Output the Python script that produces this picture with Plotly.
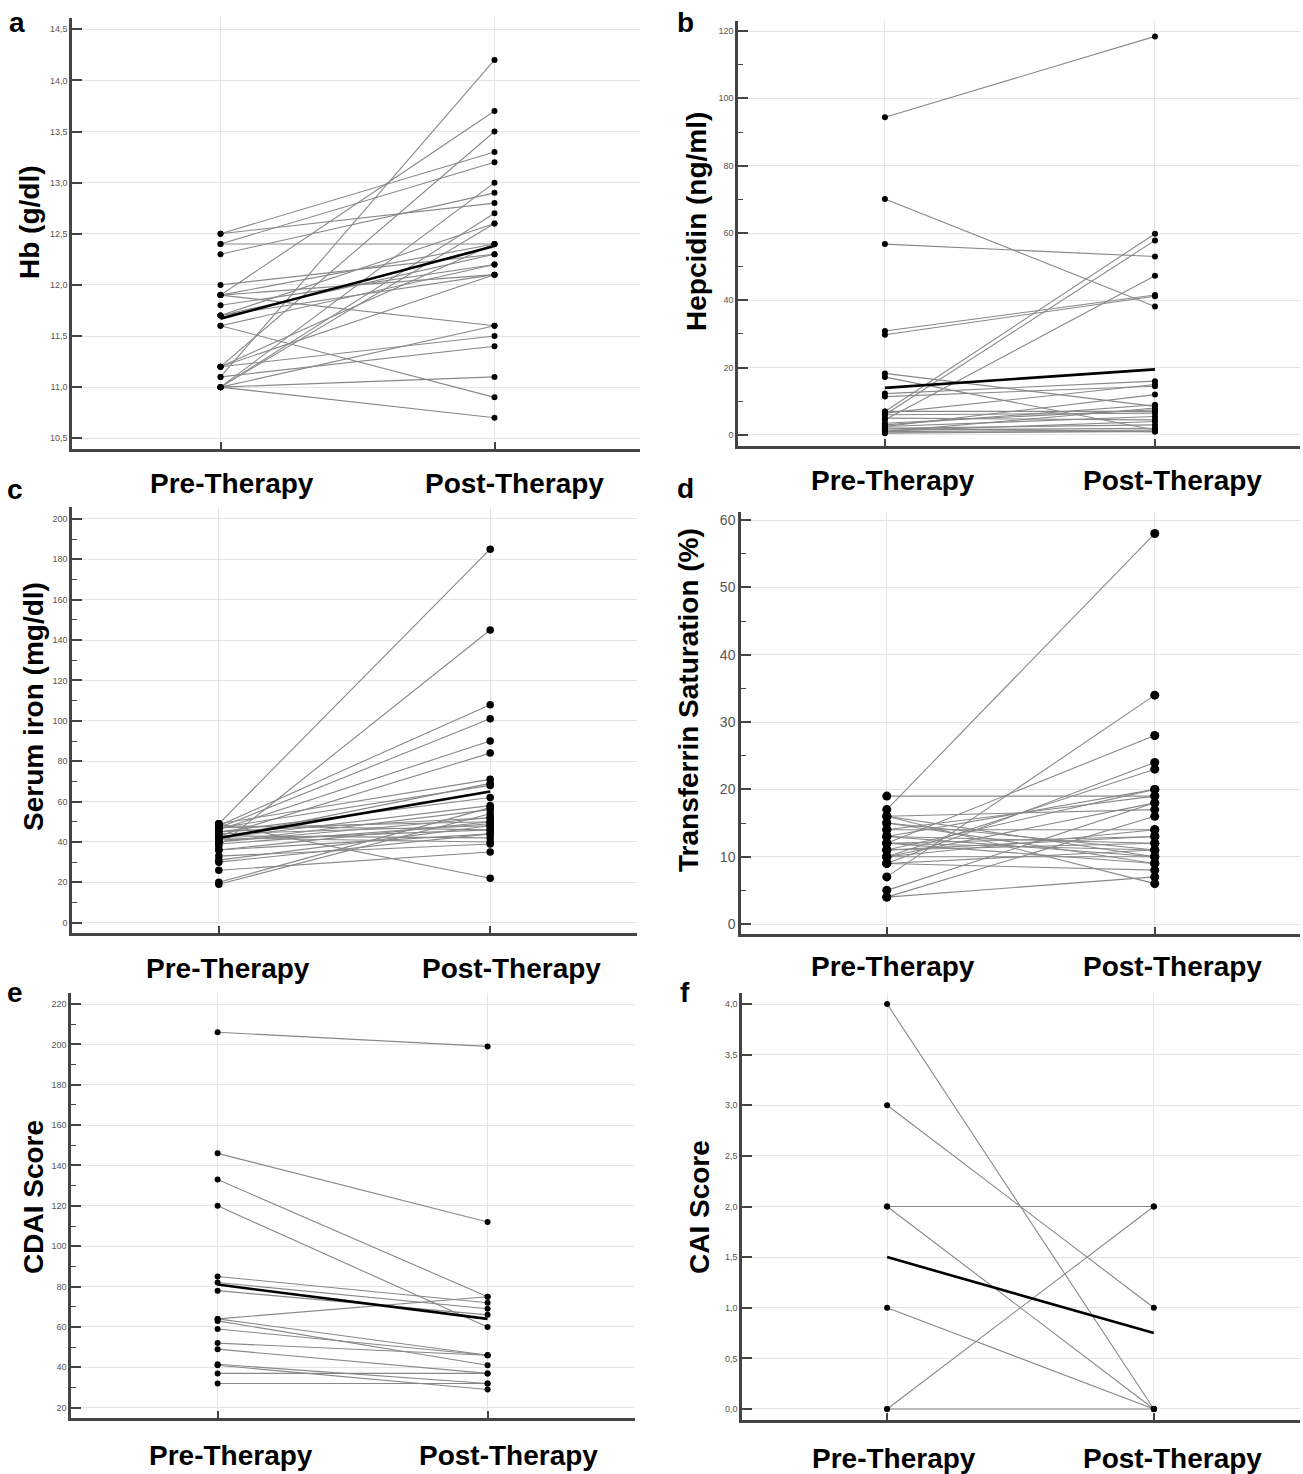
import plotly.graph_objects as go

W, H = 1303, 1474

categories = ["Pre-Therapy", "Post-Therapy"]

# ---- (a) Hb (g/dl)
hb_pre = [12.5, 12.5, 12.4, 12.4, 12.3, 12.0, 11.9, 11.9, 11.9, 11.9, 11.8, 11.7, 11.7, 11.7,
          11.6, 11.6, 11.2, 11.2, 11.2, 11.1, 11.1, 11.0, 11.0, 11.0, 11.0, 11.0, 11.0, 11.2]
hb_post = [13.3, 12.8, 12.4, 13.2, 12.9, 12.3, 13.7, 11.6, 12.1, 12.4, 12.2, 12.6, 12.3, 12.1,
           10.9, 12.2, 13.5, 11.5, 12.4, 14.2, 11.4, 10.7, 11.1, 11.6, 13.0, 12.7, 12.6, 12.1]
hb_mean = [11.67, 12.38]

# ---- (b) Hepcidin (ng/ml)
hep_pre = [94.4, 70.1, 56.7, 30.9, 29.8, 18.3, 17.2, 12.3, 11.4, 7.0, 6.0, 4.5, 2.5, 7.0,
           6.0, 5.0, 3.0, 2.5, 2.0, 1.5, 1.0, 0.8, 0.5, 3.5, 1.2, 6.5, 2.0, 1.0]
hep_post = [118.4, 38.2, 53.0, 41.6, 41.2, 8.5, 1.5, 16.0, 14.5, 59.8, 57.8, 47.3, 12.0, 7.0,
            6.5, 4.5, 9.0, 5.5, 3.0, 2.0, 1.5, 1.0, 1.2, 7.5, 4.0, 15.0, 1.0, 8.0]
hep_mean = [14.0, 19.5]

# ---- (c) Serum iron (mg/dl)
fe_pre = [49, 38, 48, 47, 46, 43, 49, 47, 45, 42, 49, 20, 19, 26, 30,
          31, 33, 36, 40, 41, 42, 43, 44, 47, 48, 36, 40, 45, 39, 42]
fe_post = [185, 145, 108, 101, 90, 84, 71, 68, 62, 58, 22, 57, 54, 35, 44,
           48, 39, 50, 52, 46, 40, 42, 48, 50, 46, 44, 56, 52, 49, 69]
fe_mean = [42, 65]

# ---- (d) Transferrin saturation (%)
tsat_pre = [17, 7, 12, 19, 16, 4, 5, 4, 9, 10, 16, 15, 14, 13, 12,
            11, 10, 9, 11, 13, 14, 15, 10, 12, 9, 16, 11, 13, 10, 12]
tsat_post = [58, 34, 28, 19, 6, 7, 18, 16, 24, 23, 17, 9, 14, 20, 11,
             13, 10, 8, 12, 10, 19, 11, 18, 13, 11, 10, 20, 12, 14, 9]

# ---- (e) CDAI score
cdai_pre = [206, 146, 133, 120, 85, 82, 78, 64, 63, 64, 59, 52, 49, 41.5, 41, 37, 32]
cdai_post = [199, 112, 75, 60, 72, 69, 66, 75, 41, 46, 46, 46, 37, 32, 29, 37, 32]
cdai_mean = [81, 64]

# ---- (f) CAI score
cai_pre = [4, 3, 2, 2, 1, 0, 0]
cai_post = [0, 1, 2, 0, 0, 2, 0]
cai_mean = [1.5, 0.75]

panels = [
    dict(letter="a", pre=hb_pre, post=hb_post, mean=hb_mean, title="Hb (g/dl)",
         px=(72, 640), py=(18, 449), xr=(-0.542, 1.531), yr=(10.395, 14.61),
         dtick=0.5, minor=None, fmt=".1f", tfs=9, ms=6,
         letter_xy=(17, 22), title_xy=(30, 222), cat_y=483, cat_dx=(11, 20)),
    dict(letter="b", pre=hep_pre, post=hep_post, mean=hep_mean, title="Hepcidin (ng/ml)",
         px=(738, 1300), py=(21, 446), xr=(-0.544, 1.537), yr=(-3.27, 122.97),
         dtick=20, minor=10, fmt="d", tfs=9, ms=6,
         letter_xy=(685, 22), title_xy=(697, 222), cat_y=480, cat_dx=(8, 18)),
    dict(letter="c", pre=fe_pre, post=fe_post, mean=fe_mean, title="Serum iron (mg/dl)",
         px=(72, 637), py=(507, 933), xr=(-0.541, 1.541), yr=(-5.1, 205.9),
         dtick=20, minor=10, fmt="d", tfs=9, ms=7.5,
         letter_xy=(15, 490), title_xy=(33, 707), cat_y=968, cat_dx=(9, 21)),
    dict(letter="d", pre=tsat_pre, post=tsat_post, mean=None, title="Transferrin Saturation (%)",
         px=(741, 1300), py=(512, 934), xr=(-0.544, 1.542), yr=(-1.48, 61.2),
         dtick=10, minor=5, fmt="d", tfs=14, ms=9,
         letter_xy=(685, 488), title_xy=(688, 700), cat_y=967, cat_dx=(6, 18)),
    dict(letter="e", pre=cdai_pre, post=cdai_post, mean=cdai_mean, title="CDAI Score",
         px=(71, 635), py=(993, 1418), xr=(-0.543, 1.546), yr=(14.9, 225.45),
         dtick=20, minor=10, fmt="d", tfs=9, ms=6,
         letter_xy=(15, 992), title_xy=(33, 1197), cat_y=1455, cat_dx=(13, 21)),
    dict(letter="f", pre=cai_pre, post=cai_post, mean=cai_mean, title="CAI Score",
         px=(742, 1300), py=(993, 1420), xr=(-0.544, 1.548), yr=(-0.109, 4.109),
         dtick=0.5, minor=None, fmt=".1f", tfs=9, ms=6,
         letter_xy=(685, 992), title_xy=(699, 1207), cat_y=1458, cat_dx=(7, 19)),
]

fig = go.Figure()
annotations = []
layout = {}

for i, p in enumerate(panels):
    n = "" if i == 0 else str(i + 1)
    xref, yref = "x" + n, "y" + n

    # connecting lines for each patient
    lx, ly = [], []
    for a, b in zip(p["pre"], p["post"]):
        lx += [0, 1, None]
        ly += [a, b, None]
    fig.add_trace(go.Scatter(x=lx, y=ly, mode="lines", xaxis=xref, yaxis=yref,
                             line=dict(color="#888888", width=1.1), hoverinfo="skip"))
    # points
    fig.add_trace(go.Scatter(x=[0] * len(p["pre"]) + [1] * len(p["post"]),
                             y=list(p["pre"]) + list(p["post"]), mode="markers",
                             xaxis=xref, yaxis=yref,
                             marker=dict(color="black", size=p["ms"])))
    # mean line
    if p["mean"] is not None:
        fig.add_trace(go.Scatter(x=[0, 1], y=p["mean"], mode="lines", xaxis=xref, yaxis=yref,
                                 line=dict(color="black", width=2.6)))

    x0, x1 = p["px"]
    ytop, ybot = p["py"]
    layout["xaxis" + n] = dict(
        domain=[x0 / W, x1 / W], range=list(p["xr"]), anchor=yref,
        tickvals=[0, 1], showticklabels=False, ticks="inside", ticklen=7,
        tickcolor="#444", tickwidth=1.5,
        showgrid=True, gridcolor="#e4e4e4", gridwidth=1, zeroline=False,
        showline=True, linecolor="#444", linewidth=2.5, fixedrange=True)
    yax = dict(
        domain=[1 - ybot / H, 1 - ytop / H], range=list(p["yr"]), anchor=xref,
        dtick=p["dtick"], tick0=0, ticks="inside", ticklen=10, tickwidth=1.5,
        tickcolor="#444", tickfont=dict(size=p["tfs"], color="#555",
                                         family="Liberation Sans Narrow, Arial Narrow, Arial"),
        showgrid=True, gridcolor="#e4e4e4", gridwidth=1, zeroline=False,
        showline=True, linecolor="#444", linewidth=2.5, fixedrange=True)
    if p["fmt"] != "d":
        yax["tickformat"] = p["fmt"]
    if p["minor"]:
        yax["minor"] = dict(dtick=p["minor"], ticks="inside", ticklen=5,
                            tickcolor="#444", tickwidth=1, showgrid=False)
    layout["yaxis" + n] = yax

    # panel letter
    lx_, ly_ = p["letter_xy"]
    annotations.append(dict(text="<b>%s</b>" % p["letter"], x=lx_ / W, y=1 - ly_ / H,
                            xref="paper", yref="paper", showarrow=False,
                            xanchor="center", yanchor="middle",
                            font=dict(size=28, color="black", family="Arial")))
    # y-axis title
    tx, ty = p["title_xy"]
    annotations.append(dict(text="<b>%s</b>" % p["title"], x=tx / W, y=1 - ty / H,
                            xref="paper", yref="paper", showarrow=False, textangle=-90,
                            xanchor="center", yanchor="middle",
                            font=dict(size=28, color="black", family="Arial")))
    # category labels
    for k, cat in enumerate(categories):
        annotations.append(dict(text="<b>%s</b>" % cat, x=k, xref=xref,
                                xshift=p["cat_dx"][k],
                                y=1 - p["cat_y"] / H, yref="paper", showarrow=False,
                                xanchor="center", yanchor="middle",
                                font=dict(size=28, color="black", family="Arial")))

fig.update_layout(**layout)
fig.update_layout(
    width=W, height=H, margin=dict(l=0, r=0, t=0, b=0),
    paper_bgcolor="white", plot_bgcolor="white", showlegend=False,
    separators=",.", annotations=annotations,
    font=dict(family="Arial"),
)

fig.write_html("out.html", config={"displayModeBar": False},
               post_script="document.body.style.margin='0px';document.body.style.overflow='hidden';")
